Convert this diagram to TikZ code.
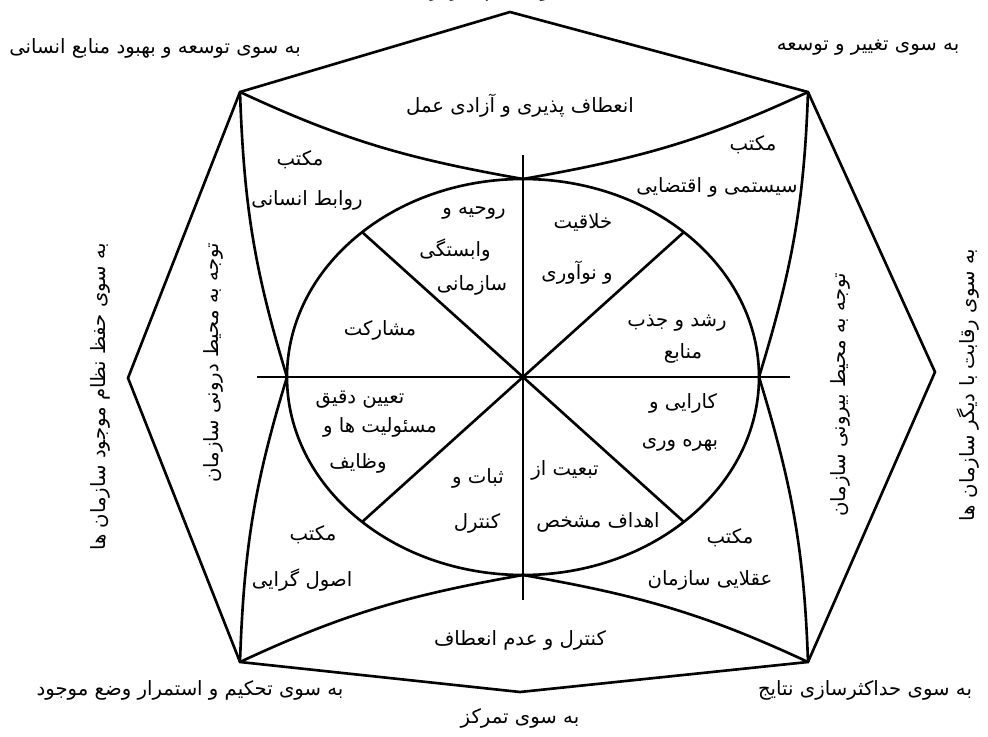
\documentclass[tikz,border=0pt]{standalone}
\usepackage{fontspec}
\newfontfamily\farsifont[Script=Arabic]{DejaVu Sans}
\TeXXeTstate=1
\newcommand{\fa}[1]{\farsifont\beginR #1\endR}

\begin{document}
\begin{tikzpicture}[x=0.02cm, y=-0.02cm, line width=1.5pt,
    every node/.style={font=\fontsize{11.2}{13}\selectfont, inner sep=1pt},
    side/.style={rotate=90}]
    \clip (0,0) rectangle (988,737);

    % Corners of outer frame
    \coordinate (TL) at (240,92);
    \coordinate (TR) at (808,92);
    \coordinate (BL) at (240,662);
    \coordinate (BR) at (808,662);
    \coordinate (Top) at (510,12);
    \coordinate (Bot) at (520,692);
    \coordinate (Lft) at (128,378);
    \coordinate (Rgt) at (935,372);

    % Ellipse points
    \coordinate (O) at (523,377);
    \coordinate (Et) at (523,179);
    \coordinate (Eb) at (523,575);
    \coordinate (El) at (287,377);
    \coordinate (Er) at (759,377);
    \coordinate (E1) at (684,232);
    \coordinate (E2) at (362,232);
    \coordinate (E3) at (362,522);
    \coordinate (E4) at (684,522);

    % Axes ends
    \coordinate (Ha) at (257,377);
    \coordinate (Hb) at (790,377);
    \coordinate (Va) at (523,155);
    \coordinate (Vb) at (523,600);

    % Outer frame
    \draw (TL)--(Top)--(TR)--(Rgt)--(BR)--(Bot)--(BL)--(Lft)--cycle;

    % Curved sides
    \draw (TL) to[out=-25, in=170] (Et) to[out=10, in=205] (TR);
    \draw (BL) to[out=25, in=190] (Eb) to[out=-10, in=155] (BR);
    \draw (TL) to[out=-88, in=107] (El) to[out=-107, in=88] (BL);
    \draw (TR) to[out=-92, in=73] (Er) to[out=-73, in=92] (BR);

    % Ellipse and axes
    \draw (O) ellipse [x radius=236, y radius=198];
    \draw (Ha) -- (Hb);
    \draw (Va) -- (Vb);
    \draw (E2) -- (O) -- (E4);
    \draw (E1) -- (O) -- (E3);

    % Corner labels
    \node (n1) at (510,-9) {\fa{به سوی عدم تمرکز}};
    \node (n2) at (155,48) {\fa{به سوی توسعه و بهبود منابع انسانی}};
    \node (n3) at (868,48) {\fa{به سوی تغییر و توسعه}};
    \node (n4) at (190,690) {\fa{به سوی تحکیم و استمرار وضع موجود}};
    \node (n5) at (865,690) {\fa{به سوی حداکثرسازی نتایج}};
    \node (n6) at (520,718) {\fa{به سوی تمرکز}};
    \node[side] (n7) at (100,397) {\fa{به سوی حفظ نظام موجود سازمان ها}};
    \node[side] (n8) at (968,385) {\fa{به سوی رقابت با دیگر سازمان ها}};
    \node[side] (n9) at (213,363) {\fa{توجه به محیط درونی سازمان}};
    \node[side] (n10) at (840,395) {\fa{توجه به محیط بیرونی سازمان}};

    % Top and bottom bands
    \node (a1) at (520,106) {\fa{انعطاف پذیری و آزادی عمل}};
    \node (a2) at (520,640) {\fa{کنترل و عدم انعطاف}};

    % Schools
    \node (s1) at (300,160) {\fa{مکتب}};
    \node (s2) at (307,200) {\fa{روابط انسانی}};
    \node (s3) at (753,145) {\fa{مکتب}};
    \node (s4) at (717,187) {\fa{سیستمی و اقتضایی}};
    \node (s5) at (313,535) {\fa{مکتب}};
    \node (s6) at (302,580) {\fa{اصول گرایی}};
    \node (s7) at (730,538) {\fa{مکتب}};
    \node (s8) at (710,580) {\fa{عقلایی سازمان}};

    % Sectors
    \node (c1) at (474,213) {\fa{روحیه و}};
    \node (c2) at (455,250) {\fa{وابستگی}};
    \node (c3) at (472,285) {\fa{سازمانی}};
    \node (c4) at (583,222) {\fa{خلاقیت}};
    \node (c5) at (577,273) {\fa{و نوآوری}};
    \node (c6) at (677,323) {\fa{رشد و جذب}};
    \node (c7) at (683,353) {\fa{منابع}};
    \node (c8) at (380,330) {\fa{مشارکت}};
    \node (c9) at (360,400) {\fa{تعیین دقیق}};
    \node (c10) at (380,427) {\fa{مسئولیت ها و}};
    \node (c11) at (358,463) {\fa{وظایف}};
    \node (c12) at (478,478) {\fa{ثبات و}};
    \node (c13) at (477,523) {\fa{کنترل}};
    \node (c14) at (565,470) {\fa{تبعیت از}};
    \node (c15) at (598,522) {\fa{اهداف مشخص}};
    \node (c16) at (683,403) {\fa{کارایی و}};
    \node (c17) at (680,445) {\fa{بهره وری}};
\end{tikzpicture}
\end{document}
